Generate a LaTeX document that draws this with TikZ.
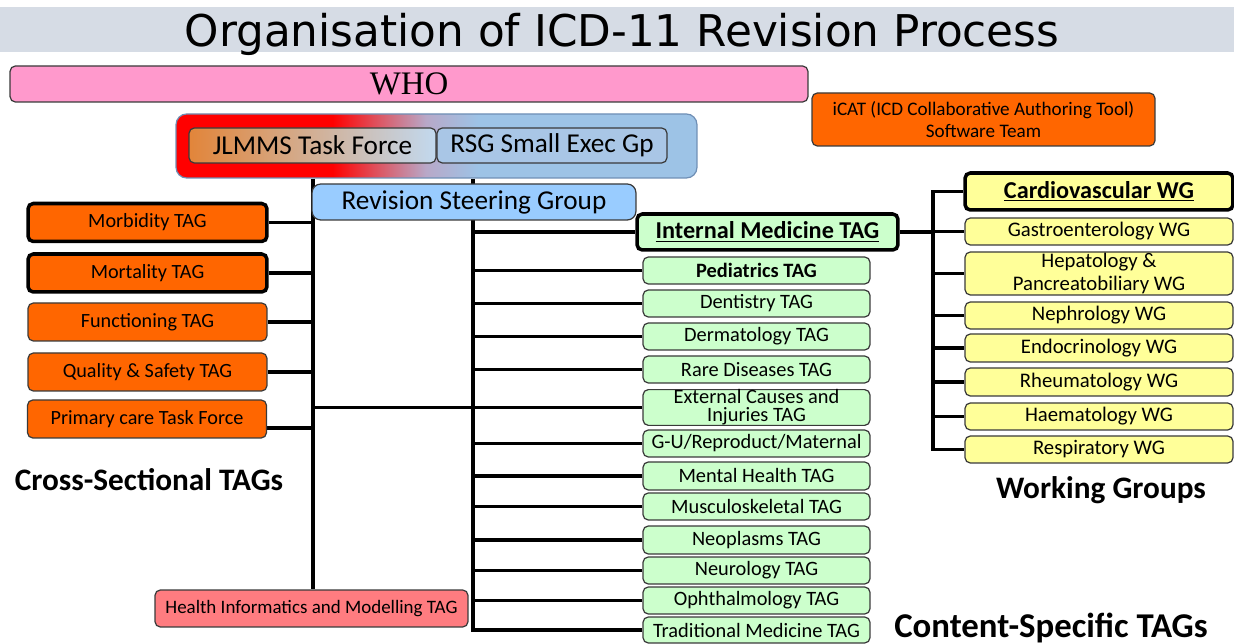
\documentclass[tikz,border=0pt]{standalone}
\usepackage{fontspec}
\setmainfont{Carlito}
\newfontfamily\titlefont{DejaVu Sans}
\newfontfamily\whofont{Liberation Serif}
\usetikzlibrary{calc}
\definecolor{band}{HTML}{D6DCE5}
\definecolor{edge}{HTML}{3A3A3A}
\definecolor{csorange}{HTML}{FF6600}
\definecolor{whopink}{HTML}{FF99CC}
\definecolor{hipink}{HTML}{FF7C80}
\definecolor{tagg}{HTML}{CCFFCC}
\definecolor{wgy}{HTML}{FFFF99}
\definecolor{bigblue}{HTML}{9DC3E6}
\definecolor{bigedge}{HTML}{6F8FB5}
\definecolor{midpink}{HTML}{D8606F}
\definecolor{lavend}{HTML}{B8A8C8}
\definecolor{jorange}{HTML}{E2853A}
\definecolor{jblue}{HTML}{C2D9EF}
\definecolor{rsgblue}{HTML}{A9C6E6}
\definecolor{revblue}{HTML}{99CCFF}
\pgfdeclarehorizontalshading{bigshade}{100bp}{color(0bp)=(red); color(40bp)=(red); color(45bp)=(midpink); color(49bp)=(lavend); color(54bp)=(bigblue); color(100bp)=(bigblue)}
\pgfdeclarelayer{bg}
\pgfsetlayers{bg,main}
\tikzset{
  box/.style={draw=edge, line width=0.7pt, rounded corners=3pt, inner sep=0pt, align=center},
  thickbox/.style={box, draw=black, line width=2pt},
  cs/.style={box, fill=csorange, minimum width=4.78cm, minimum height=0.76cm, font=\fontsize{11.5}{13}\selectfont},
  tagbox/.style={box, fill=tagg, minimum width=4.54cm, minimum height=0.54cm, font=\fontsize{11.6}{12}\selectfont},
  wgbox/.style={box, fill=wgy, minimum width=5.36cm, minimum height=0.54cm, font=\fontsize{11.8}{12.5}\selectfont},
  grouplabel/.style={inner sep=0pt, font=\bfseries\fontsize{17.8}{20}\selectfont},
  conn/.style={line width=1.8pt, line join=miter}
}
\begin{document}
\begin{tikzpicture}[x=0.02cm, y=-0.02cm]
\useasboundingbox (0,0) rectangle (1234,644);
% title
\node[fill=band, minimum width=24.68cm, minimum height=0.9cm, inner sep=0pt] (band) at (617,29.5) {};
\node[anchor=base, inner sep=0pt, font=\titlefont\fontsize{24.9}{28}\selectfont] (title) at (622,47) {Organisation of ICD-11 Revision Process};
% top boxes
\node[box, fill=whopink, minimum width=15.96cm, minimum height=0.72cm, font=\whofont\fontsize{18.7}{20}\selectfont] (who) at (409,84) {\raisebox{-1.5pt}{WHO}};
\node[box, fill=csorange, minimum width=6.86cm, minimum height=1.06cm, font=\fontsize{10.9}{13}\selectfont] (icat) at (983.5,119.5) {iCAT (ICD Collaborative Authoring Tool)\\Software Team};
\node[box, draw=bigedge, shading=bigshade, rounded corners=6pt, minimum width=10.42cm, minimum height=1.28cm] (big) at (436.5,146) {};
\node[box, left color=jorange, right color=jblue, minimum width=4.94cm, minimum height=0.7cm, font=\fontsize{15.5}{17}\selectfont] (jlmms) at (312.5,145.5) {JLMMS Task Force};
\node[box, fill=rsgblue, minimum width=4.6cm, minimum height=0.7cm, font=\fontsize{15.5}{17}\selectfont] (rsgexec) at (552,145.5) {RSG Small Exec Gp};
\node[box, fill=revblue, rounded corners=5pt, minimum width=6.48cm, minimum height=0.72cm, font=\fontsize{15.5}{17}\selectfont] (rsg) at (474,202) {Revision Steering Group};
% cross-sectional
\node[cs, thickbox, fill=csorange] (morb) at (147.5,222.5) {Morbidity TAG};
\node[cs, thickbox, fill=csorange] (mort) at (147.5,273) {Mortality TAG};
\node[cs] (func) at (147.5,322) {Functioning TAG};
\node[cs] (qual) at (147.5,372) {Quality \& Safety TAG};
\node[cs] (prim) at (147,419) {Primary care Task Force};
\node[box, fill=hipink, minimum width=6.26cm, minimum height=0.74cm, font=\fontsize{10.8}{12}\selectfont] (hinf) at (311.5,608.5) {Health Informatics and Modelling TAG};
% content specific
\node[thickbox, fill=tagg, minimum width=5.22cm, minimum height=0.72cm, font=\bfseries\fontsize{13.8}{15}\selectfont] (im) at (767.5,232) {\underline{Internal Medicine TAG}};
\node[tagbox, font=\bfseries\fontsize{11.6}{12}\selectfont] (ped) at (756.5,270.5) {Pediatrics TAG};
\node[tagbox] (dent) at (756.5,303.5) {Dentistry TAG};
\node[tagbox] (derm) at (756.5,336.5) {Dermatology TAG};
\node[tagbox] (rare) at (756.5,369.5) {Rare Diseases TAG};
\node[tagbox, minimum height=0.7cm, font=\fontsize{11.6}{10.3}\selectfont] (ext) at (756.5,407.5) {External Causes and\\Injuries TAG};
\node[tagbox] (gu) at (756.5,443.5) {G-U/Reproduct/Maternal};
\node[tagbox, minimum height=0.56cm] (ment) at (756.5,476) {Mental Health TAG};
\node[tagbox] (musc) at (756.5,506.5) {Musculoskeletal TAG};
\node[tagbox, minimum height=0.56cm] (neo) at (756.5,540) {Neoplasms TAG};
\node[tagbox] (neur) at (756.5,570.5) {Neurology TAG};
\node[tagbox] (opht) at (756.5,600.5) {Ophthalmology TAG};
\node[tagbox, minimum height=0.52cm] (trad) at (756.5,630) {Traditional Medicine TAG};
% working groups
\node[thickbox, fill=wgy, minimum width=5.36cm, minimum height=0.74cm, font=\bfseries\fontsize{13.8}{15}\selectfont] (card) at (1099,191.5) {\underline{Cardiovascular WG}};
\node[wgbox] (gast) at (1099,231.5) {Gastroenterology WG};
\node[wgbox, minimum height=0.86cm, font=\fontsize{11.8}{12.6}\selectfont] (hep) at (1099,273.5) {Hepatology \&\\Pancreatobiliary WG};
\node[wgbox] (neph) at (1099,315.5) {Nephrology WG};
\node[wgbox, minimum height=0.56cm] (endo) at (1099,348) {Endocrinology WG};
\node[wgbox, minimum height=0.56cm] (rheu) at (1099,382) {Rheumatology WG};
\node[wgbox] (haem) at (1099,416.5) {Haematology WG};
\node[wgbox] (resp) at (1099,449.5) {Respiratory WG};
% group labels
\node[grouplabel] (lcs) at (149,480) {Cross-Sectional TAGs};
\node[grouplabel] (lwg) at (1101,490) {Working Groups};
\node[grouplabel, font=\bfseries\fontsize{19.8}{22}\selectfont] (lct) at (1051,628) {Content-Specific TAGs};
% spines
\coordinate (spL) at (313,0);
\coordinate (spM) at (473,0);
\coordinate (spW) at (933,0);
\coordinate (primc) at ($(prim.east)+(0,9)$);
\begin{pgfonlayer}{bg}
\draw[conn] (big.south -| spL) -- (hinf.north -| spL);
\draw[conn] (big.south -| spM) |- (trad.west);
\foreach \n in {morb,mort,func,qual} {\draw[conn] (\n.east) -- (\n.east -| spL);}
\draw[conn] (primc) -- (primc -| spL);
\draw[conn] (ext.west -| spL) -- (ext.west);
\foreach \n in {im,ped,dent,derm,rare,gu,ment,musc,neo,neur,opht} {\draw[conn] (\n.west -| spM) -- (\n.west);}
\draw[conn] (im.east) -- (im.east -| spW);
\draw[conn] (card.west) -| (resp.west -| spW) -- (resp.west);
\foreach \n in {gast,hep,neph,endo,rheu,haem} {\draw[conn] (\n.west -| spW) -- (\n.west);}
\end{pgfonlayer}
\end{tikzpicture}
\end{document}
